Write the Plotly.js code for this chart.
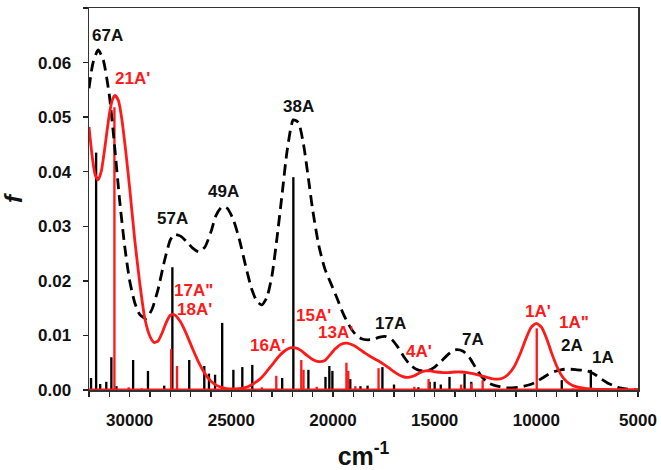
<!DOCTYPE html>
<html>
<head>
<meta charset="utf-8">
<script src="https://cdn.plot.ly/plotly-3.0.1.min.js"></script>
<style>html,body{margin:0;padding:0;background:#fff;}#chart{width:661px;height:470px;}</style>
</head>
<body>
<div id="chart"></div>
<script>
// Black dashed envelope (A symmetry)
const envBlackX = [32000,31800,31550,31300,31000,30750,30500,30250,30000,29750,29500,29200,28900,28600,28300,28000,27800,27500,27200,26900,26600,26300,26000,25750,25450,25200,24900,24600,24300,24000,23750,23500,23250,23000,22750,22500,22250,21950,21700,21450,21200,21000,20700,20400,20100,19800,19500,19200,18900,18600,18300,18000,17700,17400,17100,16800,16500,16200,15900,15600,15300,15000,14700,14400,14100,13900,13600,13300,13000,12700,12400,12100,11800,11500,11200,10900,10600,10300,10000,9700,9400,9100,8800,8600,8300,8000,7700,7400,7100,6800,6500,6200,5900,5600,5300,5000];
const envBlackY = [0.0553,0.0600,0.0623,0.0605,0.0540,0.0450,0.0350,0.0265,0.0200,0.0160,0.0138,0.0131,0.0148,0.0185,0.0235,0.0275,0.0285,0.0282,0.0272,0.0260,0.0253,0.0262,0.0290,0.0320,0.0336,0.0333,0.0312,0.0275,0.0228,0.0185,0.0163,0.0156,0.0170,0.0210,0.0280,0.0360,0.0440,0.0495,0.0490,0.0450,0.0385,0.0330,0.0265,0.0222,0.0195,0.0168,0.0140,0.0118,0.0102,0.0094,0.0092,0.0093,0.0097,0.0098,0.0092,0.0078,0.0060,0.0046,0.0038,0.0035,0.0036,0.0042,0.0052,0.0063,0.0072,0.0074,0.0071,0.0060,0.0042,0.0025,0.0014,0.0009,0.0006,0.0004,0.0004,0.0005,0.0007,0.0010,0.0015,0.0022,0.0029,0.0034,0.0037,0.0038,0.0038,0.0037,0.0036,0.0034,0.0028,0.0020,0.0013,0.0008,0.0004,0.0002,0.0001,0.0000];

// Red solid envelope (A' / A'' symmetry)
const envRedX = [32000,31850,31700,31550,31400,31200,31000,30850,30720,30550,30400,30200,30000,29750,29500,29250,29000,28800,28600,28400,28200,28000,27800,27500,27200,26900,26600,26300,26000,25700,25400,25100,24800,24500,24200,23900,23600,23300,23000,22700,22400,22100,21850,21600,21300,21000,20700,20400,20200,19900,19600,19300,19000,18700,18400,18100,17800,17500,17200,16900,16600,16300,16000,15700,15450,15200,14900,14600,14300,14000,13700,13400,13100,12800,12500,12200,11900,11700,11400,11100,10800,10500,10250,10000,9750,9500,9250,9000,8750,8500,8200,7900,7600,7300,7000,6500,6000,5500,5000];
const envRedY = [0.0482,0.0430,0.0395,0.0385,0.0400,0.0450,0.0505,0.0532,0.0540,0.0530,0.0500,0.0440,0.0370,0.0275,0.0195,0.0130,0.0098,0.0087,0.0090,0.0105,0.0124,0.0137,0.0138,0.0125,0.0102,0.0075,0.0050,0.0030,0.0016,0.0008,0.0004,0.0002,0.0002,0.0003,0.0006,0.0012,0.0020,0.0032,0.0046,0.0060,0.0071,0.0077,0.0077,0.0073,0.0064,0.0056,0.0052,0.0054,0.0062,0.0075,0.0084,0.0086,0.0082,0.0075,0.0067,0.0060,0.0054,0.0047,0.0039,0.0031,0.0025,0.0023,0.0026,0.0032,0.0035,0.0035,0.0033,0.0032,0.0032,0.0033,0.0033,0.0032,0.0030,0.0027,0.0024,0.0021,0.0020,0.0021,0.0028,0.0042,0.0066,0.0095,0.0115,0.0122,0.0115,0.0095,0.0068,0.0044,0.0026,0.0015,0.0008,0.0005,0.0003,0.0002,0.0001,0.0001,0.0000,0.0000,0.0000];

// Black sticks (A transitions)
const stickBlackX = [31900,31650,31450,31150,30900,30650,29830,29100,28300,27900,27070,26330,26100,25800,25450,24900,24460,23970,22500,21950,21210,20370,20180,20030,19150,18650,18300,17570,17000,15800,15250,15000,14700,14270,13530,13200,8750,7320];
const stickBlackY = [0.0022,0.0435,0.0011,0.0015,0.0060,0.0007,0.0055,0.0035,0.0008,0.0225,0.0055,0.0044,0.0030,0.0028,0.0123,0.0037,0.0042,0.0046,0.0022,0.0390,0.0037,0.0024,0.0044,0.0035,0.0020,0.0007,0.0008,0.0042,0.0010,0.0005,0.0015,0.0015,0.0010,0.0024,0.0030,0.0015,0.0018,0.0037];

// Red sticks (A' / A'' transitions)
const stickRedX = [30750,30050,29400,27960,27670,23500,22790,21560,21450,20800,19340,19250,18900,17760,16000,15300,13700,13200,12640,9980,8200];
const stickRedY = [0.0518,0.0005,0.0003,0.0075,0.0044,0.0005,0.0026,0.0055,0.0037,0.0006,0.0050,0.0035,0.0007,0.0040,0.0006,0.0020,0.0010,0.0012,0.0018,0.0113,0.0003];

// Tick labels
const xTickVals = [30000,25000,20000,15000,10000,5000];
const xTickText = ["30000","25000","20000","15000","10000","5000"];

// Peak labels
const labelText  = ["67A","21A'","57A","49A","38A","17A\"","18A'","16A'","15A'","13A'","17A","4A'","7A","1A'","1A\"","2A","1A"];
const labelX     = [31100,29880,27900,25400,21700,26880,26800,23230,20970,19880,17170,15790,13130,9930,8160,8260,6730];
const labelY     = [0.0650,0.0571,0.0315,0.0363,0.0520,0.0183,0.0147,0.0082,0.0136,0.0105,0.0122,0.0070,0.0093,0.0143,0.0124,0.0082,0.0059];
const labelColor = ["black","red","black","black","black","red","red","red","red","red","black","red","black","red","red","black","black"];

const RED = "#ff1a1a";
const FONT = "Liberation Sans, Arial, sans-serif";

const traces = [
  {type:"bar", x:stickBlackX, y:stickBlackY, width:115, marker:{color:"black", line:{width:0}}, hoverinfo:"x+y"},
  {type:"bar", x:stickRedX, y:stickRedY, width:115, marker:{color:RED, line:{width:0}}, hoverinfo:"x+y"},
  {type:"scatter", mode:"lines", x:envBlackX, y:envBlackY, line:{color:"black", width:2.8, dash:"11px,6px", shape:"spline", smoothing:0.6}},
  {type:"scatter", mode:"lines", x:envRedX, y:envRedY, line:{color:RED, width:2.8, shape:"spline", smoothing:0.6}}
];

const annotations = labelText.map((t,i)=>({
  x:labelX[i], y:labelY[i], xref:"x", yref:"y", text:t, showarrow:false,
  font:{family:FONT, size:17, color:labelColor[i]==="red"?RED:"#111", weight:"bold"}
}));

const layout = {
  width:661, height:470,
  margin:{l:89, r:23, t:8, b:80, pad:0},
  paper_bgcolor:"#fff", plot_bgcolor:"#fff",
  showlegend:false, barmode:"overlay",
  font:{family:FONT, color:"#111"},
  xaxis:{
    range:[32000,5000], autorange:false,
    tickmode:"array", tickvals:xTickVals, ticktext:xTickText,
    ticks:"outside", ticklen:5, tickwidth:1.5, tickcolor:"#222",
    minor:{dtick:1000, tick0:0, ticks:"outside", ticklen:5, tickwidth:1.5, tickcolor:"#222"},
    showline:true, linecolor:"#333", linewidth:1.5, mirror:true,
    showgrid:false, zeroline:false,
    tickfont:{family:FONT, size:17, color:"#111", weight:"bold"},
    ticklabelstandoff:9,
    title:{text:"cm<sup>-1</sup>", font:{family:FONT, size:25, color:"#111", weight:"bold"}, standoff:24}
  },
  yaxis:{
    range:[0,0.07], autorange:false, dtick:0.01, tickformat:".2f",
    ticks:"outside", ticklen:5, tickwidth:1.5, tickcolor:"#222",
    showline:true, linecolor:"#333", linewidth:1.5, mirror:true,
    showgrid:false, zeroline:false,
    tickfont:{family:FONT, size:17, color:"#111", weight:"bold"},
    ticklabelstandoff:8,
    title:{text:"f", font:{family:FONT, size:24, color:"#111", weight:"bold", style:"italic"}, standoff:14}
  },
  shapes:[{type:"line", xref:"paper", x0:0, x1:1, yref:"y", y0:0, y1:0, line:{color:RED, width:3}, layer:"above"}],
  annotations:annotations
};

Plotly.newPlot("chart", traces, layout, {displayModeBar:false, staticPlot:true});
</script>
</body>
</html>
